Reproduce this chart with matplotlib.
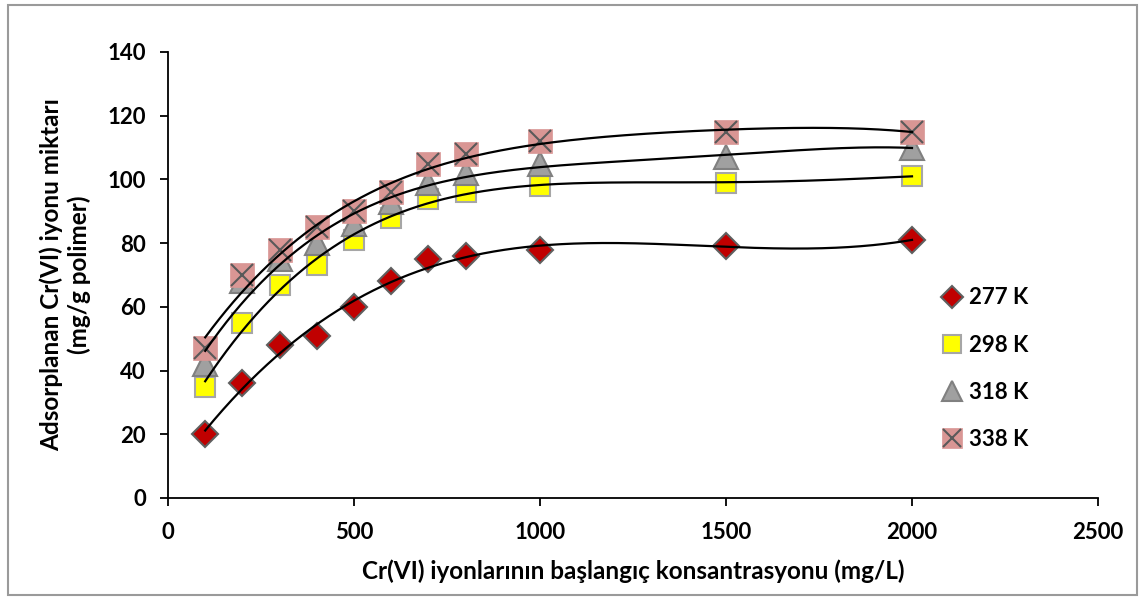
import numpy as np
import matplotlib
matplotlib.use("Agg")
import matplotlib.pyplot as plt
from matplotlib.patches import Rectangle
from matplotlib.legend_handler import HandlerTuple

plt.rcParams['font.family'] = ['Lato', 'DejaVu Sans']

conc = [100, 200, 300, 400, 500, 600, 700, 800, 1000, 1500, 2000]
q_277 = [20, 36, 48, 51, 60, 68, 75, 76, 78, 79, 81]
q_298 = [35, 55, 67, 73, 81, 88, 94, 96, 98, 99, 101]
q_318 = [42, 68, 75, 80, 86, 93, 99, 102, 105, 107, 110]
q_338 = [47, 70, 78, 85, 90, 96, 105, 108, 112, 115, 115]
labels = ['277 K', '298 K', '318 K', '338 K']
x_ticks = [0, 500, 1000, 1500, 2000, 2500]
y_ticks = [0, 20, 40, 60, 80, 100, 120, 140]
fit_degree = 4

W, H = 1144, 600
fig = plt.figure(figsize=(W / 100, H / 100), dpi=100)
ax = fig.add_axes([168 / W, 1 - 498 / H, (1098 - 168) / W, (498 - 52) / H])

fig.patches.append(Rectangle((8 / W, 5 / H), (1137 - 8) / W, (595 - 5) / H,
                             transform=fig.transFigure, fill=False,
                             edgecolor='#9a9a9a', linewidth=1.5))

x = np.array(conc, dtype=float)
ms = 15
h277, = ax.plot(conc, q_277, linestyle='none', marker='D', markersize=13,
                markerfacecolor='#C00000', markeredgecolor='#5f5f5f',
                markeredgewidth=1.5, zorder=3)
h298, = ax.plot(conc, q_298, linestyle='none', marker='s', markersize=ms,
                markerfacecolor='#FFFF00', markeredgecolor='#A6A6A6',
                markeredgewidth=1.5, zorder=3)
h318, = ax.plot(conc, q_318, linestyle='none', marker='^', markersize=ms + 2,
                markerfacecolor='#A0A0A0', markeredgecolor='#808080',
                markeredgewidth=1.5, zorder=3)
h338a, = ax.plot(conc, q_338, linestyle='none', marker='s', markersize=ms + 2,
                 markerfacecolor='#D99694', markeredgecolor='#D99694',
                 markeredgewidth=0.5, zorder=3)
h338b, = ax.plot(conc, q_338, linestyle='none', marker='x', markersize=ms + 1,
                 markeredgecolor='#595959', markeredgewidth=1.5, zorder=3)

xs = np.linspace(min(conc), max(conc), 400)
for q in (q_277, q_298, q_318, q_338):
    c = np.polyfit(x, np.array(q, dtype=float), fit_degree)
    ax.plot(xs, np.polyval(c, xs), color='black', linewidth=1.6, zorder=4)

ax.set_xlim(0, 2500)
ax.set_ylim(0, 140)
ax.set_xticks(x_ticks)
ax.set_yticks(y_ticks)
for s in ('top', 'right'):
    ax.spines[s].set_visible(False)
for s in ('left', 'bottom'):
    ax.spines[s].set_linewidth(1.3)
ax.tick_params(direction='out', length=6, width=1.3, labelsize=16)
ax.tick_params(axis='x', pad=11)
ax.tick_params(axis='y', pad=10)
for t in ax.get_xticklabels() + ax.get_yticklabels():
    t.set_fontweight('bold')

ax.set_xlabel('Cr(VI) iyonlarının başlangıç konsantrasyonu (mg/L)',
              fontsize=17.5, fontweight='bold', labelpad=12)
ax.set_ylabel('Adsorplanan Cr(VI) iyonu miktarı\n(mg/g polimer)',
              fontsize=17.5, fontweight='bold', labelpad=12, linespacing=1.2)

leg = ax.legend([h277, h298, h318, (h338a, h338b)], labels,
                handler_map={tuple: HandlerTuple(ndivide=1)},
                loc='center left', bbox_to_anchor=(0.811, 0.29),
                frameon=False, prop={'size': 16, 'weight': 'bold'},
                labelspacing=1.18, handlelength=0.9, handletextpad=0.3,
                markerscale=0.85)

fig.savefig('out.png', dpi=100)
